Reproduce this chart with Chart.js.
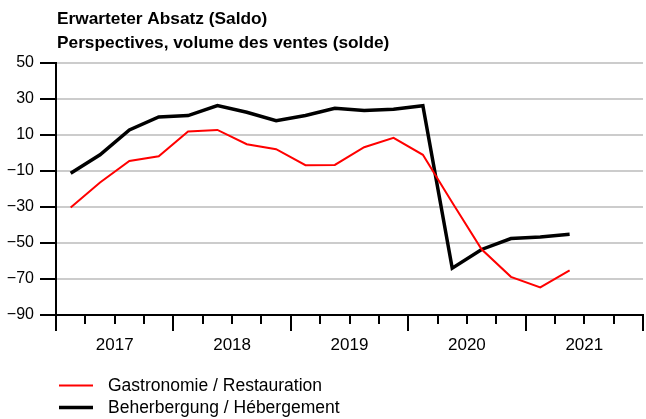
<!DOCTYPE html>
<html><head><meta charset="utf-8">
<script src="https://cdn.jsdelivr.net/npm/chart.js@4"></script>
<style>html,body{margin:0;padding:0;background:#fff}canvas{display:block}</style>
</head><body>
<canvas id="c" width="646" height="419"></canvas>
<script>
const titleLines = ["Erwarteter Absatz (Saldo)", "Perspectives, volume des ventes (solde)"];
const years = ["2017", "2018", "2019", "2020", "2021"];
const quarters = ["2017 Q1","2017 Q2","2017 Q3","2017 Q4","2018 Q1","2018 Q2","2018 Q3","2018 Q4",
  "2019 Q1","2019 Q2","2019 Q3","2019 Q4","2020 Q1","2020 Q2","2020 Q3","2020 Q4","2021 Q1","2021 Q2"];
const gastronomie = [-30.3, -16.4, -4.4, -1.8, 11.9, 12.8, 4.9, 2.1, -6.8, -6.6, 3.2, 8.4, -1.0, -27.5, -53.5, -68.8, -74.7, -65.2];
const beherbergung = [-11.2, -1.0, 12.8, 20.0, 20.8, 26.3, 22.6, 18.0, 20.8, 24.9, 23.6, 24.3, 26.3, -64.0, -53.6, -47.5, -46.6, -45.2];
const yTicks = [50, 30, 10, -10, -30, -50, -70, -90];
const seriesLabels = ["Gastronomie / Restauration", "Beherbergung / Hébergement"];

const FONT = "'Liberation Sans', Arial, Helvetica, sans-serif";
Chart.defaults.font.family = FONT;
Chart.defaults.color = '#000';

const toPoints = arr => arr.map((v, i) => ({ x: i + 0.5, y: v }));

const titlePlugin = {
  id: 'titleP',
  afterDraw(chart) {
    const ctx = chart.ctx;
    ctx.save();
    ctx.font = 'bold 17.3px ' + FONT;
    ctx.fillStyle = '#000';
    ctx.textAlign = 'left';
    ctx.textBaseline = 'alphabetic';
    titleLines.forEach((t, i) => ctx.fillText(t, 57, 24 + i * 23.5));
    ctx.restore();
  }
};

const xTicksPlugin = {
  id: 'xTicksP',
  afterDraw(chart) {
    const ctx = chart.ctx;
    const xs = chart.scales.x;
    const y0 = chart.chartArea.bottom;
    ctx.save();
    ctx.strokeStyle = '#000';
    ctx.lineWidth = 2;
    for (let i = 0; i <= years.length * 4; i++) {
      const px = Math.round(xs.getPixelForValue(i));
      const len = (i % 4 === 0) ? 16 : 9;
      ctx.beginPath();
      ctx.moveTo(px, y0);
      ctx.lineTo(px, y0 + len);
      ctx.stroke();
    }
    ctx.restore();
  }
};

const legendPlugin = {
  id: 'legendP',
  afterDraw(chart) {
    const ctx = chart.ctx;
    ctx.save();
    ctx.font = '17.5px ' + FONT;
    ctx.textAlign = 'left';
    ctx.textBaseline = 'middle';
    chart.data.datasets.forEach((ds, i) => {
      const y = 385.5 + i * 22;
      ctx.strokeStyle = ds.borderColor;
      ctx.lineWidth = ds.borderWidth;
      ctx.beginPath();
      ctx.moveTo(59, y);
      ctx.lineTo(93, y);
      ctx.stroke();
      ctx.fillStyle = '#000';
      ctx.fillText(ds.label, 108, y + 1);
    });
    ctx.restore();
  }
};

new Chart(document.getElementById('c'), {
  type: 'line',
  data: {
    labels: quarters,
    datasets: [
      { label: seriesLabels[0], data: toPoints(gastronomie), borderColor: '#ff0000', borderWidth: 2, pointRadius: 0, tension: 0, fill: false },
      { label: seriesLabels[1], data: toPoints(beherbergung), borderColor: '#000000', borderWidth: 3.5, pointRadius: 0, tension: 0, fill: false }
    ]
  },
  options: {
    responsive: false,
    animation: false,
    layout: { padding: { top: 63, right: 3, left: 0, bottom: 0 } },
    plugins: { legend: { display: false }, title: { display: false }, tooltip: { enabled: false } },
    scales: {
      x: {
        type: 'linear',
        min: 0,
        max: years.length * 4,
        afterFit: s => { s.height = 104; },
        afterBuildTicks: s => { s.ticks = years.map((_, i) => ({ value: i * 4 + 2 })); },
        ticks: {
          autoSkip: false, maxRotation: 0, padding: 20,
          font: { size: 17 },
          callback: (v, i) => years[i]
        },
        grid: { display: true, drawOnChartArea: false, drawTicks: false },
        border: { display: true, color: '#000', width: 2 }
      },
      y: {
        min: -90,
        max: 50,
        afterFit: s => { s.width = 56; },
        afterBuildTicks: s => { s.ticks = yTicks.map(v => ({ value: v })); },
        ticks: {
          padding: 6,
          font: { size: 16 },
          callback: v => (v < 0 ? '\u2212' + Math.abs(v) : String(v))
        },
        grid: {
          color: c => (c.tick && c.tick.value === -90) ? 'rgba(0,0,0,0)' : '#cccccc',
          lineWidth: 2,
          tickColor: '#000',
          tickLength: 16,
          tickWidth: 2
        },
        border: { display: true, color: '#000', width: 2 }
      }
    }
  },
  plugins: [titlePlugin, xTicksPlugin, legendPlugin]
});
</script>
</body></html>
